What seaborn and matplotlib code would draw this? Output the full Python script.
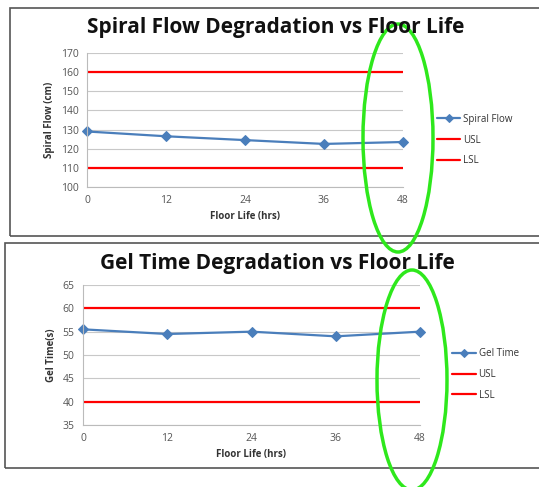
import matplotlib
matplotlib.use("Agg")
import matplotlib.pyplot as plt
import seaborn as sns
import pandas as pd
from matplotlib.patches import Rectangle, Ellipse

hours = [0, 12, 24, 36, 48]
spiral_flow = [129, 126.5, 124.5, 122.5, 123.5]
spiral_usl = 160
spiral_lsl = 110
gel_time = [55.5, 54.5, 55, 54, 55]
gel_usl = 60
gel_lsl = 40

sns.set_style("white")
plt.rcParams["font.family"] = ["Open Sans", "DejaVu Sans"]

BLUE = "#4a7ebb"
RED = "#ff0000"
GREEN = "#2ee81c"


def build_df(values, usl, lsl, name):
    df = pd.DataFrame({"hrs": hours * 3,
                       "value": list(values) + [usl] * len(hours) + [lsl] * len(hours),
                       "series": [name] * len(hours) + ["USL"] * len(hours) + ["LSL"] * len(hours)})
    return df


def draw_panel(fig, rect, df, name, ylim, yticks, ylabel, title, title_x, title_y, leg_anchor):
    ax = fig.add_axes(rect)
    sns.lineplot(data=df[df["series"] == name], x="hrs", y="value", color=BLUE,
                 marker="D", markersize=5, markeredgecolor=BLUE, linewidth=1.6,
                 ax=ax, label=name, clip_on=False)
    sns.lineplot(data=df[df["series"] == "USL"], x="hrs", y="value", color=RED,
                 linewidth=1.6, ax=ax, label="USL")
    sns.lineplot(data=df[df["series"] == "LSL"], x="hrs", y="value", color=RED,
                 linewidth=1.6, ax=ax, label="LSL")
    ax.set_xlim(0, 48)
    ax.set_ylim(ylim)
    ax.set_xticks(hours)
    ax.set_yticks(yticks)
    ax.yaxis.grid(True, color="#c8c8c8", linewidth=0.8)
    ax.set_axisbelow(True)
    for side in ["top", "right"]:
        ax.spines[side].set_visible(False)
    for side in ["left", "bottom"]:
        ax.spines[side].set_color("#bbbbbb")
        ax.spines[side].set_linewidth(0.8)
    ax.tick_params(axis="both", labelsize=7.5, colors="#555555", length=0, pad=6)
    ax.set_xlabel("Floor Life (hrs)", fontsize=7, fontweight="bold", color="#333333", labelpad=3)
    ax.set_ylabel(ylabel, fontsize=7, fontweight="bold", color="#333333", labelpad=4)
    fig.text(title_x, title_y, title, ha="center", va="center", fontsize=15,
             fontweight="bold", color="#111111")
    leg = ax.legend(loc="center left", bbox_to_anchor=leg_anchor, frameon=False,
                    fontsize=7, handlelength=2.4, labelspacing=1.0, handletextpad=0.3,
                    markerscale=0.8)
    for t in leg.get_texts():
        t.set_color("#333333")
    return ax


W, H = 539, 487
fig = plt.figure(figsize=(W / 100, H / 100), dpi=100)

# panel borders
fig.add_artist(Rectangle((10 / W, 1 - 236 / H), 540 / W, 228 / H, transform=fig.transFigure,
                         fill=False, edgecolor="#555555", linewidth=1.2))
fig.add_artist(Rectangle((5 / W, 1 - 468 / H), 545 / W, 225 / H, transform=fig.transFigure,
                         fill=False, edgecolor="#555555", linewidth=1.2))

df_sf = build_df(spiral_flow, spiral_usl, spiral_lsl, "Spiral Flow")
draw_panel(fig, [87 / W, 1 - 187 / H, 316 / W, 134 / H], df_sf, "Spiral Flow",
           (100, 170), range(100, 171, 10), "Spiral Flow (cm)",
           "Spiral Flow Degradation vs Floor Life", 276 / W, 1 - 28 / H, (1.08, 0.35))

df_gt = build_df(gel_time, gel_usl, gel_lsl, "Gel Time")
draw_panel(fig, [83 / W, 1 - 425 / H, 337 / W, 140 / H], df_gt, "Gel Time",
           (35, 65), range(35, 66, 5), "Gel Time(s)",
           "Gel Time Degradation vs Floor Life", 277 / W, 1 - 263 / H, (1.07, 0.36))

# hand-drawn highlight ellipses
fig.add_artist(Ellipse((398 / W, 1 - 138 / H), 70 / W, 228 / H, transform=fig.transFigure,
                       fill=False, edgecolor=GREEN, linewidth=2.5))
fig.add_artist(Ellipse((412 / W, 1 - 380 / H), 70 / W, 220 / H, transform=fig.transFigure,
                       fill=False, edgecolor=GREEN, linewidth=2.5))

fig.savefig("out.png", dpi=100)
